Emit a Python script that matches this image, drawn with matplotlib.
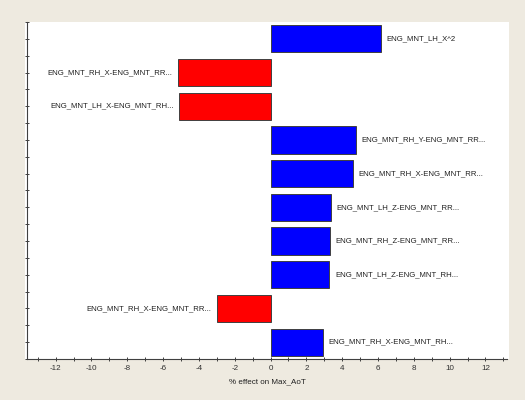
import matplotlib
matplotlib.use("Agg")
import matplotlib.pyplot as plt
from matplotlib.ticker import MultipleLocator

labels = [
    "ENG_MNT_LH_X^2",
    "ENG_MNT_RH_X-ENG_MNT_RR...",
    "ENG_MNT_LH_X-ENG_MNT_RH...",
    "ENG_MNT_RH_Y-ENG_MNT_RR...",
    "ENG_MNT_RH_X-ENG_MNT_RR...",
    "ENG_MNT_LH_Z-ENG_MNT_RR...",
    "ENG_MNT_RH_Z-ENG_MNT_RR...",
    "ENG_MNT_LH_Z-ENG_MNT_RH...",
    "ENG_MNT_RH_X-ENG_MNT_RR...",
    "ENG_MNT_RH_X-ENG_MNT_RH...",
]
values = [6.18, -5.19, -5.11, 4.78, 4.59, 3.36, 3.31, 3.29, -3.01, 2.91]
xlabel = "% effect on Max_AoT"

plt.rcParams['font.family'] = ['Liberation Sans', 'DejaVu Sans']
plt.rcParams['axes.unicode_minus'] = False

fig = plt.figure(figsize=(5.25, 4.0), dpi=100)
fig.patch.set_facecolor('#EEEAE0')
# white plotting panel slightly larger than the axes
panel = plt.Rectangle((25 / 525, 41 / 400), (509 - 25) / 525, (378 - 41) / 400,
                      transform=fig.transFigure, facecolor='white',
                      edgecolor='none', zorder=-10)
fig.patches.append(panel)
ax = fig.add_axes([0.0514, 0.1025, 0.9143, 0.8425])
ax.set_facecolor('none')
ax.set_zorder(1)

n = len(values)
ypos = list(range(n - 1, -1, -1))
colors = ['#0000FF' if v >= 0 else '#FF0000' for v in values]
ax.barh(ypos, values, height=0.81, color=colors, edgecolor='#404040', linewidth=0.7)

for y, v, lab in zip(ypos, values, labels):
    if v >= 0:
        ax.annotate(lab, (v, y), xytext=(4, 0), textcoords='offset points',
                    ha='left', va='center', fontsize=5.6, color='#202020')
    else:
        ax.annotate(lab, (v, y), xytext=(-4, 0), textcoords='offset points',
                    ha='right', va='center', fontsize=5.6, color='#202020')

ax.set_xlim(-13.6, 13.2)
ax.set_ylim(-0.5, n - 0.5)
ax.xaxis.set_major_locator(MultipleLocator(2))
ax.xaxis.set_minor_locator(MultipleLocator(1))
ax.set_yticks(range(n))
ax.set_yticks([i - 0.5 for i in range(n + 1)], minor=True)
ax.set_yticklabels([])

for s in ['top', 'right']:
    ax.spines[s].set_visible(False)
for s in ['left', 'bottom']:
    ax.spines[s].set_color('#404040')
    ax.spines[s].set_linewidth(0.8)

ax.tick_params(axis='both', which='both', direction='inout', length=3, width=0.7,
               color='#404040', labelsize=5.8, labelcolor='#303030', pad=3)
ax.set_xlabel(xlabel, fontsize=5.8, color='#202020', labelpad=4)

fig.savefig('out.png', dpi=100, facecolor=fig.get_facecolor())
